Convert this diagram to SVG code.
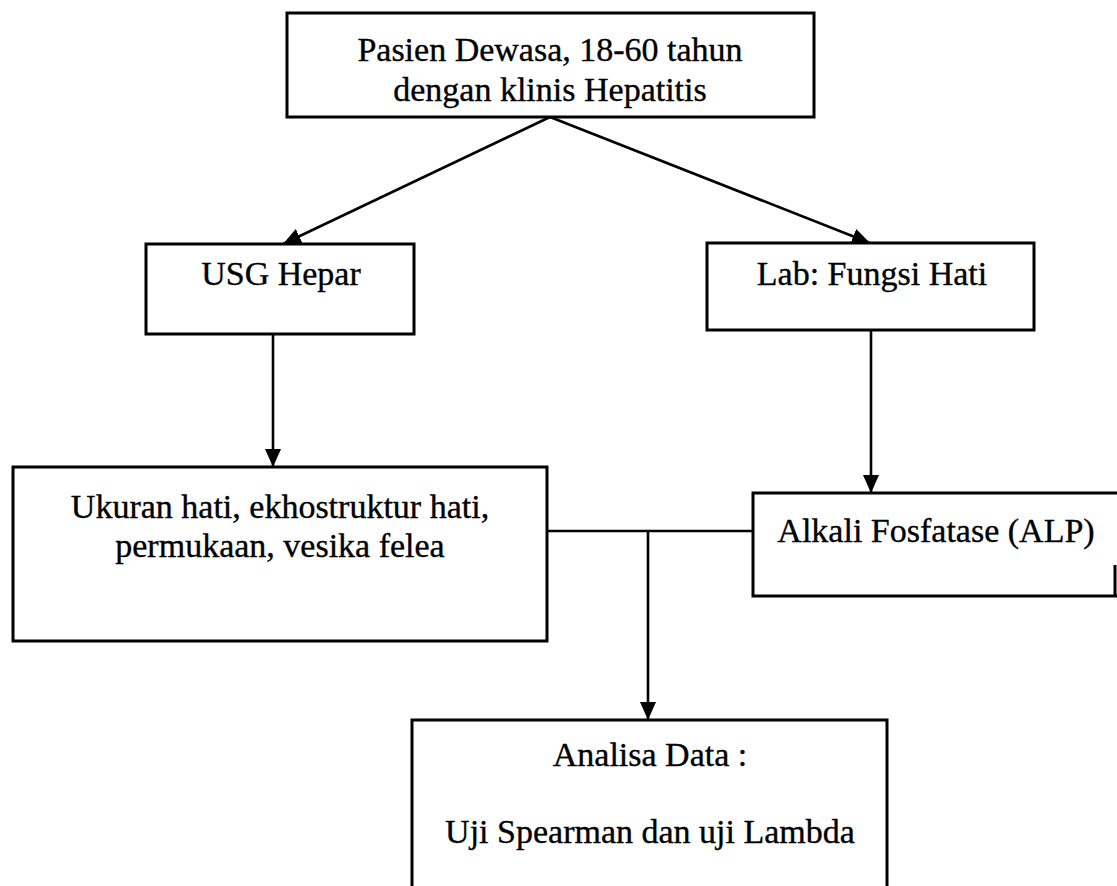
<svg xmlns="http://www.w3.org/2000/svg" width="1117" height="886" viewBox="0 0 1117 886">
<style>
.box{fill:#fff;stroke:#000;stroke-width:3}
.t{font-family:"Liberation Serif","Times New Roman",serif;font-size:34px;fill:#000;stroke:#000;stroke-width:0.35;text-anchor:middle}
.c{stroke:#000;stroke-width:2.6;fill:none}
</style>
<defs>
<marker id="ah" markerWidth="18" markerHeight="16" refX="18" refY="8" orient="auto" markerUnits="userSpaceOnUse">
<path d="M0,0 L18,8 L0,16 z" fill="#000"/>
</marker>
</defs>
<rect width="1117" height="886" fill="#fff"/>
<g id="connectors">
<line class="c" x1="550" y1="117" x2="283" y2="244" marker-end="url(#ah)"/>
<line class="c" x1="550" y1="117" x2="870" y2="243" marker-end="url(#ah)"/>
<line class="c" x1="273" y1="334" x2="273" y2="467" marker-end="url(#ah)"/>
<line class="c" x1="871" y1="330" x2="871" y2="493" marker-end="url(#ah)"/>
<line class="c" x1="547" y1="531" x2="753" y2="531"/>
<line class="c" x1="648" y1="531" x2="648" y2="720" marker-end="url(#ah)"/>
</g>
<g id="n-pasien">
<rect class="box" x="287" y="13" width="527" height="104"/>
<text class="t" x="550" y="61">Pasien Dewasa, 18-60 tahun</text>
<text class="t" x="550" y="101">dengan klinis Hepatitis</text>
</g>
<g id="n-usg">
<rect class="box" x="146" y="244" width="268" height="90"/>
<text class="t" x="281" y="285">USG Hepar</text>
</g>
<g id="n-lab">
<rect class="box" x="707" y="243" width="327" height="87"/>
<text class="t" x="872" y="285">Lab: Fungsi Hati</text>
</g>
<g id="n-ukuran">
<rect class="box" x="13" y="467" width="534" height="174"/>
<text class="t" x="280" y="518">Ukuran hati, ekhostruktur hati,</text>
<text class="t" x="280" y="557">permukaan, vesika felea</text>
</g>
<g id="n-alp">
<path class="box" d="M1120,493 H753 V596 H1120 M1115,565 V596"/>
<text class="t" x="936" y="542">Alkali Fosfatase (ALP)</text>
</g>
<g id="n-analisa">
<rect class="box" x="412" y="720" width="475" height="190"/>
<text class="t" x="650" y="766">Analisa Data :</text>
<text class="t" x="650" y="843">Uji Spearman dan uji Lambda</text>
</g>
</svg>
